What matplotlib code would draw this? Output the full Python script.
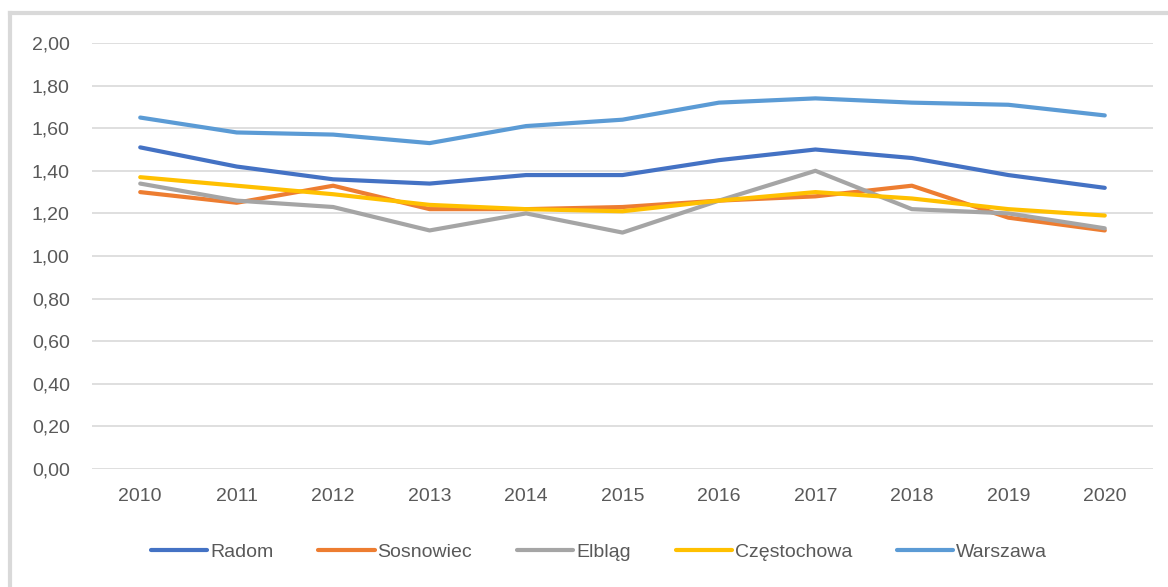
import matplotlib as mpl
mpl.use('Agg')

import matplotlib.pyplot as plt
from matplotlib.ticker import FuncFormatter, MultipleLocator
from matplotlib.lines import Line2D

# data
years = ['2010', '2011', '2012', '2013', '2014', '2015', '2016', '2017', '2018', '2019', '2020']

radom = [1.51, 1.42, 1.36, 1.34, 1.38, 1.38, 1.45, 1.50, 1.46, 1.38, 1.32]
sosnowiec = [1.30, 1.25, 1.33, 1.22, 1.22, 1.23, 1.26, 1.28, 1.33, 1.18, 1.12]
elblag = [1.34, 1.26, 1.23, 1.12, 1.20, 1.11, 1.26, 1.40, 1.22, 1.20, 1.13]
czestochowa = [1.37, 1.33, 1.29, 1.24, 1.22, 1.21, 1.26, 1.30, 1.27, 1.22, 1.19]
warszawa = [1.65, 1.58, 1.57, 1.53, 1.61, 1.64, 1.72, 1.74, 1.72, 1.71, 1.66]

series_names = ['Radom', 'Sosnowiec', 'Elbląg', 'Częstochowa', 'Warszawa']
series_colors = ['#4472C4', '#ED7D31', '#A5A5A5', '#FFC000', '#5B9BD5']

plt.rcParams['font.family'] = ['Liberation Sans', 'DejaVu Sans']
text_color = '#595959'

fig = plt.figure(figsize=[11.68, 5.87], dpi=100)
ax = fig.add_axes([92/1168, 1 - 469/587, (1153 - 92)/1168, (469 - 43)/587])

# light frame of the chart object (only top and left edges are visible)
fx, fy = 9.5/1168, 1 - 12.5/587
fig.lines.append(Line2D([fx, fx], [0, fy], transform=fig.transFigure,
                        color='#d9d9d9', linewidth=3, solid_capstyle='projecting'))
fig.lines.append(Line2D([fx, 1], [fy, fy], transform=fig.transFigure,
                        color='#d9d9d9', linewidth=3, solid_capstyle='projecting'))

x = range(len(years))
for vals, name, col in zip([radom, sosnowiec, elblag, czestochowa, warszawa],
                           series_names, series_colors):
    ax.plot(x, vals, color=col, linewidth=3, label=name, solid_capstyle='round')

ax.set_xlim(-0.5, len(years) - 0.5)
ax.set_ylim(0, 2.0)
ax.yaxis.set_major_locator(MultipleLocator(0.2))
ax.yaxis.set_major_formatter(FuncFormatter(lambda v, p: '{:.2f}'.format(v).replace('.', ',')))
ax.set_xticks(list(x))
ax.set_xticklabels(years)

ax.grid(axis='y', color='#d9d9d9', linewidth=1.2)
ax.set_axisbelow(True)
for s in ax.spines.values():
    s.set_visible(False)
ax.tick_params(axis='both', length=0, labelsize=14, labelcolor=text_color)
ax.tick_params(axis='y', pad=16)
ax.tick_params(axis='x', pad=14)

fig.legend(loc='center', bbox_to_anchor=(0.513, 0.06), ncol=5, frameon=False,
           fontsize=14, labelcolor=text_color, handlelength=2.9,
           handletextpad=0.15, columnspacing=2.3)

plt.savefig('out.png', dpi=100)
